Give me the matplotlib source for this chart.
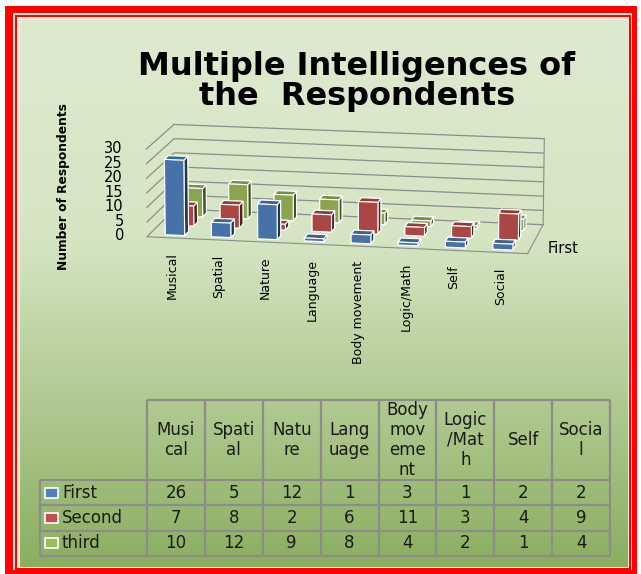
import numpy as np
import matplotlib
matplotlib.use('Agg')
import matplotlib.pyplot as plt
from matplotlib.patches import Rectangle
from matplotlib.colors import LinearSegmentedColormap
from mpl_toolkits.mplot3d import proj3d

categories = ['Musical', 'Spatial', 'Nature', 'Language', 'Body movement',
              'Logic/Math', 'Self', 'Social']
header_labels = ['Musi\ncal', 'Spati\nal', 'Natu\nre', 'Lang\nuage',
                 'Body\nmov\neme\nnt', 'Logic\n/Mat\nh', 'Self', 'Socia\nl']
series_names = ['First', 'Second', 'third']
first = [26, 5, 12, 1, 3, 1, 2, 2]
second = [7, 8, 2, 6, 11, 3, 4, 9]
third = [10, 12, 9, 8, 4, 2, 1, 4]
z_ticks = [0, 5, 10, 15, 20, 25, 30]

series_vals = [first, second, third]
series_colors = ['#4F81BD', '#C0504D', '#9BBB59']
grid_col = '#8C8C8C'

W, H = 641, 574
fig = plt.figure(figsize=(W / 100, H / 100), dpi=100)
fig.patch.set_facecolor('white')

# background, frame, titles and table drawn in pixel coords
bg = fig.add_axes([0, 0, 1, 1])
bg.axis('off')
bg.add_patch(Rectangle((5, 6), 632, 568, color='#FF0000', lw=0))
bg.add_patch(Rectangle((13, 13), 619, 557, color='#F2E8D6', lw=0))
bg.add_patch(Rectangle((15, 15), 616, 555, color='#FF0000', lw=0))
bg.add_patch(Rectangle((17, 17), 612, 551, color='#F2E8D6', lw=0))
grad = LinearSegmentedColormap.from_list(
    'bg', [(0, '#DEEAD0'), (0.4, '#D5E5C3'), (1, '#8BAE60')])
bg.imshow(np.linspace(0, 1, 256).reshape(-1, 1), cmap=grad, aspect='auto',
          extent=(20, 628, 567, 20), zorder=1.5)
bg.set_xlim(0, W)
bg.set_ylim(H, 0)

bg.text(357, 66, 'Multiple Intelligences of', ha='center', va='center',
        fontsize=23, fontweight='bold')
bg.text(357, 97, 'the  Respondents', ha='center', va='center',
        fontsize=23, fontweight='bold')
bg.text(63, 187, 'Number of Respondents', rotation=90, ha='center',
        va='center', fontsize=8.8, fontweight='bold')

# data table
x0, x_lab, x1 = 147, 40, 610
cw = (x1 - x0) / len(categories)
y_top, y_head = 400, 480
rh = 25.3
y_bot = y_head + rh * len(series_names)
lkw = dict(color=grid_col, lw=1.6, solid_capstyle='butt', zorder=2)
for i in range(len(categories) + 1):
    bg.plot([x0 + i * cw] * 2, [y_top, y_bot], **lkw)
bg.plot([x_lab] * 2, [y_head, y_bot], **lkw)
bg.plot([x0, x1], [y_top, y_top], **lkw)
for j in range(len(series_names) + 1):
    bg.plot([x_lab, x1], [y_head + j * rh] * 2, **lkw)
for i, lab in enumerate(header_labels):
    bg.text(x0 + (i + 0.5) * cw, (y_top + y_head) / 2, lab, ha='center',
            va='center', fontsize=12, linespacing=1.15, color='#1a1a1a')
for j, name in enumerate(series_names):
    yc = y_head + (j + 0.5) * rh
    bg.add_patch(Rectangle((45, yc - 5), 13, 10, facecolor=series_colors[j],
                           edgecolor='white', lw=1.2, zorder=3))
    bg.text(62, yc, name, ha='left', va='center', fontsize=12, color='#1a1a1a')
    for i, v in enumerate(series_vals[j]):
        bg.text(x0 + (i + 0.5) * cw, yc, str(v), ha='center', va='center',
                fontsize=12, color='#1a1a1a')

# 3d column chart
ax = fig.add_axes([100 / W, 1 - 434 / H, 480 / W, 480 / H], projection='3d')
ax.patch.set_alpha(0)
xs, ys, dz, cols = [], [], [], []
for j, vals in enumerate(series_vals):
    for i, v in enumerate(vals):
        xs.append(i - 0.21)
        ys.append(j - 0.21)
        dz.append(v)
        cols.append(series_colors[j])
ax.bar3d(xs, ys, np.zeros(len(xs)), 0.42, 0.42, dz, color=cols,
         edgecolor='white', linewidth=0.8, shade=True)

ax.set_proj_type('persp', focal_length=1.3)
ax.view_init(elev=13, azim=-79.6)
ax.set_xlim(-0.55, 7.55)
ax.set_ylim(-0.5, 2.5)
ax.set_zlim(0, 30)
ax.set_box_aspect((382, 122, 89), zoom=0.83)

for axis in (ax.xaxis, ax.yaxis, ax.zaxis):
    axis.set_pane_color((1, 1, 1, 0))
    axis.pane.set_edgecolor(grid_col)
    axis.line.set_color(grid_col)
    axis._axinfo['grid'].update(color=grid_col, linewidth=0.9)
    axis._axinfo['tick'].update(inward_factor=0, outward_factor=0)
ax.set_xticks([])
ax.set_yticks([])
ax.set_zticks(z_ticks)
ax.set_zticklabels([])

# labels placed at projected 3d positions, drawn as plain 2d text
M = ax.get_proj()
for t in z_ticks:
    px, py, _ = proj3d.proj_transform(-1.05, -0.5, t, M)
    ax.text2D(px, py, str(t), transform=ax.transData, ha='right',
              va='center', fontsize=10.5)
for i, c in enumerate(categories):
    px, py, _ = proj3d.proj_transform(i, -0.5, -5, M)
    ax.text2D(px, py, c, transform=ax.transData, rotation=90, ha='center',
              va='top', fontsize=9)
px, py, _ = proj3d.proj_transform(7.95, -0.3, 1.5, M)
ax.text2D(px, py, 'First', transform=ax.transData, ha='left', va='center',
          fontsize=10.5)

fig.savefig('out.png', dpi=100)
